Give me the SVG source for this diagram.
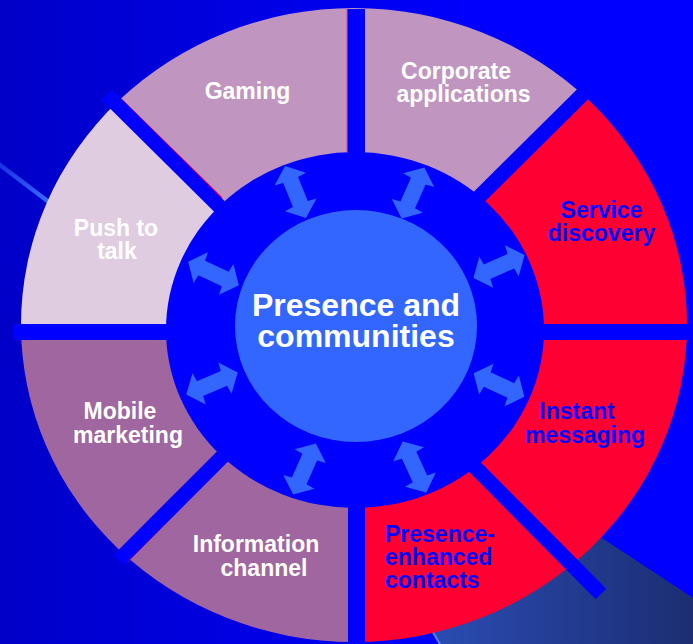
<svg xmlns="http://www.w3.org/2000/svg" width="693" height="644" viewBox="0 0 693 644">
  <defs>
    <linearGradient id="bg" x1="0" y1="0" x2="693" y2="0" gradientUnits="userSpaceOnUse">
      <stop offset="0" stop-color="#0000C8"/>
      <stop offset="0.72" stop-color="#0000FF"/>
      <stop offset="1" stop-color="#0000FF"/>
    </linearGradient>
    <linearGradient id="slate" x1="430" y1="0" x2="693" y2="0" gradientUnits="userSpaceOnUse">
      <stop offset="0" stop-color="#2A4CB4"/>
      <stop offset="1" stop-color="#1C2D72"/>
    </linearGradient>
    <linearGradient id="streak" x1="0" y1="165" x2="55" y2="205" gradientUnits="userSpaceOnUse">
      <stop offset="0" stop-color="#3366FF" stop-opacity="0.5"/>
      <stop offset="1" stop-color="#3F70FF" stop-opacity="1"/>
    </linearGradient>
    <clipPath id="outer">
      <ellipse cx="354" cy="325" rx="333" ry="317"/>
    </clipPath>
    <polygon id="arrow" points="-28,0 -14,-17 -13,-8 13,-8 14,-17 28,0 14,17 13,8 -13,8 -14,17"/>
  </defs>
  <style>
    .seg { clip-path: url(#outer); }
    .mauve { fill: #C096C0; }
    .light { fill: #E0CCE0; }
    .purple { fill: #A066A0; }
    .red { fill: #FF0033; }
    .gap { stroke: #0000FF; stroke-width: 15; stroke-linecap: butt; fill: none; }
    .gapr { fill: #0000FF; }
    .edge { stroke: #FF0033; stroke-width: 1.5; fill: none; }
    .arr { fill: #3366FF; }
    text { font-family: "Liberation Sans", Arial, sans-serif; font-weight: bold; }
    .lw { fill: #FFFFFF; font-size: 23px; text-anchor: middle; }
    .lb { fill: #0000FF; font-size: 23px; text-anchor: middle; }
    .lbs { fill: #0000FF; font-size: 23px; text-anchor: start; }
    .ctr { fill: #FFFFFF; font-size: 32px; text-anchor: middle; }
  </style>

  <rect x="0" y="0" width="693" height="644" fill="url(#bg)"/>
  <line x1="-4" y1="162" x2="70" y2="218" stroke="url(#streak)" stroke-width="4.5"/>
  <polygon points="235,296 440,644 693,644 693,598" fill="url(#slate)"/>
  <line x1="441" y1="646" x2="400" y2="576" stroke="#5583FF" stroke-width="2"/>

  <g id="segment-gaming"><polygon class="seg mauve" points="250,237 60,48 60,-60 356.5,-60 356.5,200"/></g>
  <g id="segment-corporate"><polygon class="seg mauve" points="356.5,200 356.5,-60 641,-60 641,37 431,245"/></g>
  <g id="segment-service"><polygon class="seg red" points="431,245 641,37 760,37 760,332 500,332"/></g>
  <g id="segment-instant"><polygon class="seg red" points="500,332 760,332 760,673 680,673 440,432"/></g>
  <g id="segment-presence"><polygon class="seg red" points="440,432 680,673 680,720 356.5,720 356.5,460"/></g>
  <g id="segment-information"><polygon class="seg purple" points="356.5,460 356.5,720 60,720 60,619 260,419"/></g>
  <g id="segment-mobile"><polygon class="seg purple" points="260,419 60,619 -60,619 -60,332 210,332"/></g>
  <g id="segment-push"><polygon class="seg light" points="210,332 -60,332 -60,48 60,48 250,237"/></g>

  <ellipse id="hub-ring" cx="355" cy="330" rx="189" ry="178" fill="#0000FF"/>

  <g id="separators">
    <line class="edge" x1="347.5" y1="9" x2="347.5" y2="152"/>
    <line class="edge" x1="121" y1="99" x2="222" y2="198"/>
    <line class="edge" x1="227" y1="461" x2="127" y2="562"/>
    <rect class="gapr" x="348" y="9" width="17" height="150"/>
    <rect class="gapr" x="348" y="500" width="17" height="144"/>
    <rect class="gapr" x="13" y="324" width="160" height="16"/>
    <rect class="gapr" x="535" y="324" width="158" height="16"/>
    <line class="gap" x1="107" y1="95" x2="222" y2="209"/>
    <line class="gap" x1="592" y1="85" x2="476" y2="200"/>
    <line class="gap" x1="229" y1="450" x2="119" y2="560"/>
    <line class="gap" x1="465" y1="457" x2="601" y2="594"/>
  </g>

  <g id="node-center">
    <ellipse cx="356" cy="326" rx="121" ry="116" fill="#3366FF"/>
    <text class="ctr" x="356" y="316">Presence and</text>
    <text class="ctr" x="356" y="347">communities</text>
  </g>

  <g id="connectors">
    <use href="#arrow" class="arr" transform="translate(295.5,192) rotate(68)"/>
    <use href="#arrow" class="arr" transform="translate(413,193) rotate(114)"/>
    <use href="#arrow" class="arr" transform="translate(499,266.5) rotate(-24)"/>
    <use href="#arrow" class="arr" transform="translate(499,385) rotate(25)"/>
    <use href="#arrow" class="arr" transform="translate(414.5,467) rotate(65)"/>
    <use href="#arrow" class="arr" transform="translate(304.5,469) rotate(114)"/>
    <use href="#arrow" class="arr" transform="translate(212,383.5) rotate(-23)"/>
    <use href="#arrow" class="arr" transform="translate(213.5,273.5) rotate(25)"/>
  </g>

  <g id="label-gaming"><text class="lw" x="247.5" y="99">Gaming</text></g>
  <g id="label-corporate">
    <text class="lw" x="456" y="79">Corporate</text>
    <text class="lw" x="463.5" y="102">applications</text>
  </g>
  <g id="label-service">
    <text class="lb" x="601.5" y="218">Service</text>
    <text class="lb" x="601.5" y="241">discovery</text>
  </g>
  <g id="label-push">
    <text class="lw" x="116" y="236">Push to</text>
    <text class="lw" x="117" y="259">talk</text>
  </g>
  <g id="label-mobile">
    <text class="lw" x="120" y="419">Mobile</text>
    <text class="lw" x="128" y="443">marketing</text>
  </g>
  <g id="label-information">
    <text class="lw" x="256" y="552">Information</text>
    <text class="lw" x="264" y="576">channel</text>
  </g>
  <g id="label-instant">
    <text class="lb" x="577" y="419">Instant</text>
    <text class="lb" x="585" y="443">messaging</text>
  </g>
  <g id="label-presence-enhanced">
    <text class="lbs" x="385" y="542">Presence-</text>
    <text class="lbs" x="385" y="565">enhanced</text>
    <text class="lbs" x="385" y="588">contacts</text>
  </g>
</svg>
